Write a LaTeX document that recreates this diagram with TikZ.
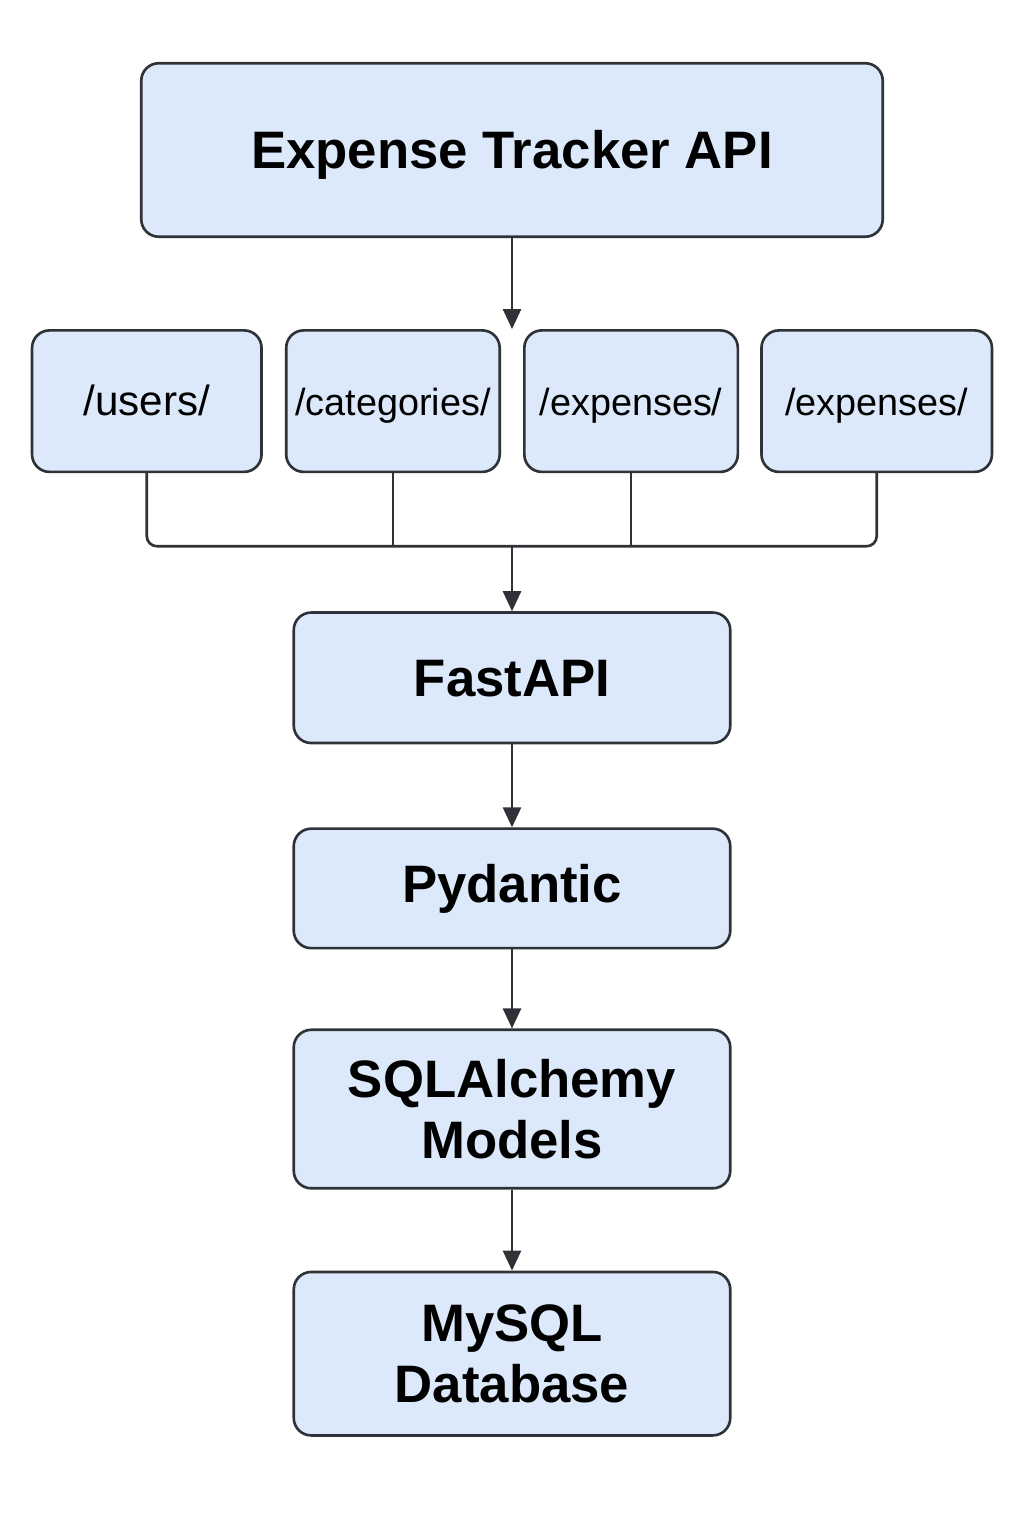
\documentclass[tikz,border=0pt]{standalone}
\usepackage{fontspec}
\setmainfont{Liberation Sans}
\usetikzlibrary{positioning,arrows.meta,calc}
\definecolor{boxfill}{HTML}{DCE9FA}
\definecolor{boxline}{HTML}{2F3337}

\begin{document}
\begin{tikzpicture}
    [
    node distance=1.6cm,
    box/.style={draw=boxline,fill=boxfill,line width=1.5pt,rounded corners=0.35cm,align=center},
    layer/.style={box,minimum width=8.73cm,font=\fontsize{30}{35}\selectfont\bfseries},
    oneline/.style={text height=21.5pt,text depth=0pt},
    route/.style={box,minimum height=2.83cm,text height=16pt,text depth=0pt,font=\fontsize{21.5}{26}\selectfont},
    wire/.style={draw=boxline,line width=1.5pt},
    flow/.style={wire,-{Triangle[length=0.4cm,width=0.36cm]}},
    ]
    \useasboundingbox (0,0) rectangle (20.48,-30.72);
    \node[layer,oneline,minimum width=14.83cm,minimum height=3.47cm] (api) at (10.24,-3.0) {Expense Tracker API};
    % routes
    \node[route,minimum width=4.27cm,below left=1.82cm and 0.22cm of api.south] (cat) {/categories/};
    \node[route,minimum width=4.59cm,left=0.44cm of cat,font=\fontsize{24}{28}\selectfont] (users) {/users/};
    \node[route,minimum width=4.27cm,below right=1.82cm and 0.22cm of api.south] (exp1) {/expenses/};
    \node[route,minimum width=4.61cm,right=0.42cm of exp1] (exp2) {/expenses/};
    \coordinate (bus) at ($(cat.south -| api.south)+(0,-1.46)$);
    % stack
    \node[layer,oneline,minimum height=2.61cm,below=1.3cm of bus] (fast) {FastAPI};
    \node[layer,minimum height=2.39cm,below=1.66cm of fast] (pyd) {Pydantic};
    \node[layer,minimum height=3.17cm,below=1.58cm of pyd] (orm) {SQLAlchemy\\Models};
    \node[layer,minimum height=3.27cm,below=1.62cm of orm] (db) {MySQL\\Database};
    % connectors
    \draw[flow] (api) -- (api.south |- cat.north);
    \draw[wire,rounded corners=0.2cm] (users) |- (bus) -| (exp2);
    \draw[wire] (cat) -- (cat |- bus);
    \draw[wire] (exp1) -- (exp1 |- bus);
    \draw[flow] (bus) -- (fast);
    \draw[flow] (fast) -- (pyd);
    \draw[flow] (pyd) -- (orm);
    \draw[flow] (orm) -- (db);
\end{tikzpicture}
\end{document}
